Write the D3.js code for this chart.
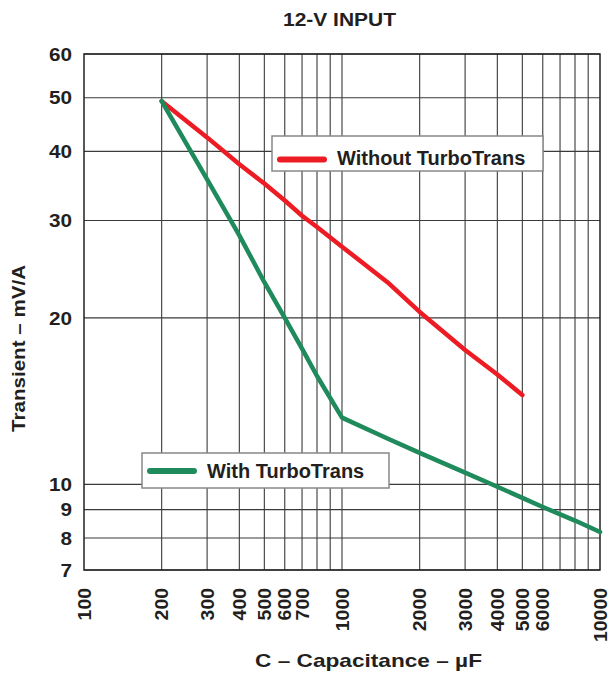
<!DOCTYPE html>
<html>
<head>
<meta charset="utf-8">
<script src="https://cdn.jsdelivr.net/npm/d3@7"></script>
<style>
  body { margin: 0; background: #fff; }
  text { font-family: "Liberation Sans", Arial, sans-serif; font-weight: bold; fill: #231f20; }
</style>
</head>
<body>
<div id="chart"></div>
<script>
// data (capacitance uF, transient mV/A)
var withoutX = [200, 300, 400, 500, 600, 700, 800, 1000, 1500, 2000, 3000, 4000, 5000];
var withoutY = [49.3, 42.4, 37.9, 35.0, 32.6, 30.6, 29.2, 26.9, 23.2, 20.5, 17.5, 15.8, 14.5];
var withX = [200, 300, 400, 500, 600, 700, 800, 1000, 1500, 2000, 3000, 4000, 5000, 6000, 8000, 10000];
var withY = [49.3, 35.6, 28.2, 23.2, 20.0, 17.6, 15.7, 13.2, 12.1, 11.4, 10.5, 9.9, 9.45, 9.1, 8.6, 8.2];

var xGrid = [200, 300, 400, 500, 600, 700, 800, 900, 1000, 2000, 3000, 4000, 5000, 6000, 7000, 8000, 9000];
var xLabels = [100, 200, 300, 400, 500, 600, 700, 1000, 2000, 3000, 4000, 5000, 6000, 10000];
var yTicks = [7, 8, 9, 10, 20, 30, 40, 50, 60];

var svgWidth = 611, svgHeight = 673;
var margin = {top: 54, right: 11, bottom: 103, left: 84};
var width = svgWidth - margin.left - margin.right;
var height = svgHeight - margin.top - margin.bottom;

var svg = d3.select("#chart").append("svg")
  .attr("width", svgWidth)
  .attr("height", svgHeight);

var chartGroup = svg.append("g")
  .attr("transform", `translate(${margin.left}, ${margin.top})`);

var x = d3.scaleLog().domain([100, 10000]).range([0, width]);
var y = d3.scaleLog().domain([7, 60]).range([height, 0]);

// grid
chartGroup.selectAll(".vgrid").data(xGrid).enter().append("line")
  .attr("x1", d => x(d)).attr("x2", d => x(d))
  .attr("y1", 0).attr("y2", height)
  .attr("stroke", "#3a3a3a").attr("stroke-width", 1.1);

chartGroup.selectAll(".hgrid").data(yTicks).enter().append("line")
  .attr("x1", 0).attr("x2", width)
  .attr("y1", d => y(d)).attr("y2", d => y(d))
  .attr("stroke", "#3a3a3a").attr("stroke-width", 1.1);

chartGroup.append("rect")
  .attr("width", width).attr("height", height)
  .attr("fill", "none").attr("stroke", "#222").attr("stroke-width", 1.5);

// y tick labels (reference font is a bit wide, so stretch a little)
chartGroup.selectAll(".ylab").data(yTicks).enter().append("text")
  .attr("transform", d => `translate(-12, ${y(d) + 6.7}) scale(1.12, 1)`)
  .attr("text-anchor", "end")
  .style("font-size", "18.5px")
  .text(d => d);

// x tick labels (rotated)
chartGroup.selectAll(".xlab").data(xLabels).enter().append("text")
  .attr("transform", d => `translate(${x(d) + 6.7}, ${height + 18}) rotate(-90) scale(1.05, 1)`)
  .attr("text-anchor", "end")
  .style("font-size", "18.5px")
  .text(d => d);

// lines
var line = d3.line().x(d => x(d[0])).y(d => y(d[1]));

chartGroup.append("path")
  .datum(d3.zip(withoutX, withoutY))
  .attr("d", line)
  .attr("fill", "none").attr("stroke", "#ed1c24")
  .attr("stroke-width", 4.5).attr("stroke-linejoin", "round").attr("stroke-linecap", "round");

chartGroup.append("path")
  .datum(d3.zip(withX, withY))
  .attr("d", line)
  .attr("fill", "none").attr("stroke", "#1f8a5b")
  .attr("stroke-width", 4.5).attr("stroke-linejoin", "round").attr("stroke-linecap", "round");

// legends
function legend(bx, by, bw, lineY, textY, color, label) {
  var g = svg.append("g").attr("transform", `translate(${bx}, ${by})`);
  g.append("rect").attr("width", bw).attr("height", 35)
    .attr("fill", "#fff").attr("stroke", "#888").attr("stroke-width", 1.5);
  g.append("line").attr("x1", 8).attr("x2", 52).attr("y1", lineY).attr("y2", lineY)
    .attr("stroke", color).attr("stroke-width", 6).attr("stroke-linecap", "round");
  g.append("text").attr("x", 65).attr("y", textY)
    .style("font-size", "20px").text(label);
}
legend(272, 136, 271, 23.5, 28.5, "#ed1c24", "Without TurboTrans");
legend(142, 453, 247, 18, 24.5, "#1f8a5b", "With TurboTrans");

// titles
svg.append("text").attr("x", 283).attr("y", 25.7)
  .attr("textLength", 113).attr("lengthAdjust", "spacingAndGlyphs")
  .style("font-size", "17.5px").text("12-V INPUT");

svg.append("text").attr("x", 255).attr("y", 667)
  .attr("textLength", 227).attr("lengthAdjust", "spacingAndGlyphs")
  .style("font-size", "18.5px").text("C – Capacitance – µF");

svg.append("text")
  .attr("transform", "translate(25, 432) rotate(-90)")
  .attr("textLength", 167).attr("lengthAdjust", "spacingAndGlyphs")
  .style("font-size", "18.5px").text("Transient – mV/A");
</script>
</body>
</html>
